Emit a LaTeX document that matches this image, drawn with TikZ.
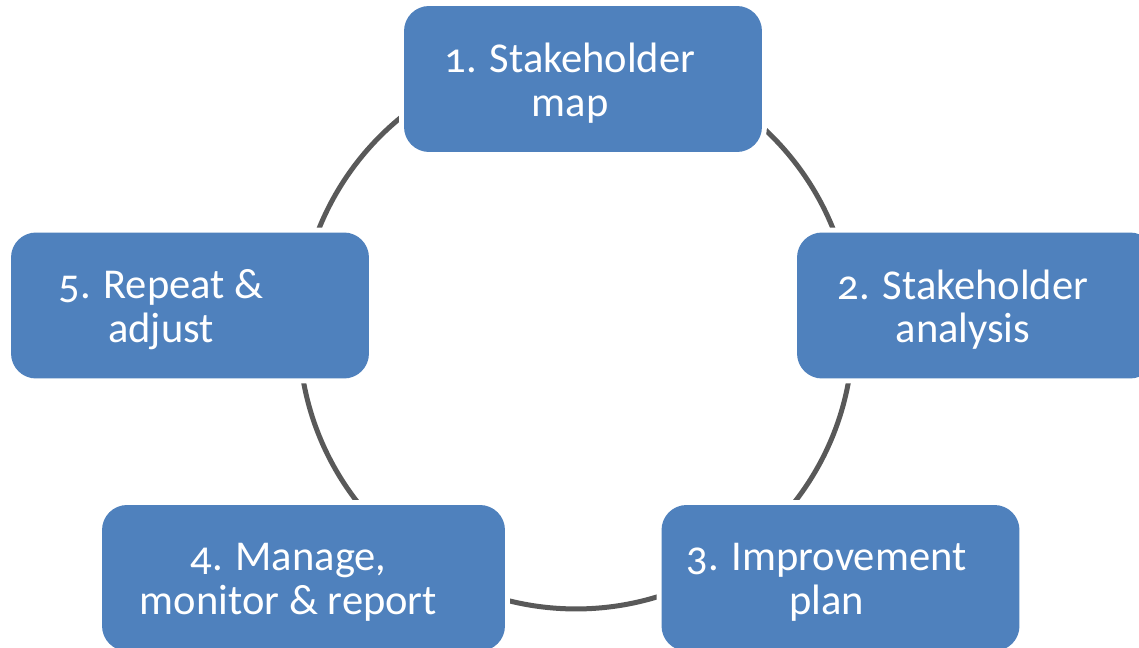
\documentclass[tikz,border=0pt]{standalone}
\usepackage{fontspec}
\setmainfont{Carlito}[Numbers=OldStyle]
\definecolor{boxblue}{HTML}{4F81BD}
\definecolor{ringgray}{HTML}{595959}
\tikzset{
  stepbox/.style={fill=boxblue, rounded corners=0.5cm, inner sep=0pt,
    minimum width=7.16cm, minimum height=2.92cm,
    preaction={draw=white, line width=0.2cm}},
  steptext/.style={text=white, align=center, font=\fontsize{24.2}{24.8}\selectfont}
}

\begin{document}
\begin{tikzpicture}[x=0.02cm, y=-0.02cm]
  \useasboundingbox (0,0) rectangle (1139,648);
  \clip (0,0) rectangle (1139,648);

  % the ring behind the steps
  \coordinate (c) at (576,332);
  \draw[ringgray, line width=0.1cm] (c) circle[radius=5.54cm];

  \node[stepbox] (s1) at (583,79)    {};
  \node[stepbox] (s2) at (976,305.5) {};
  \node[stepbox] (s3) at (840.5,578) {};
  \node[stepbox, minimum width=8.06cm] (s4) at (303.5,578) {};
  \node[stepbox] (s5) at (190,305.5) {};

  \def\labels {t1/570/83/{1. Stakeholder\\map}, t2/963/309.5/{2. Stakeholder\\analysis},
  t3/826.5/582/{3. Improvement\\plan}, t4/288.5/582/{4. Manage,\\monitor \& report},
  t5/161/309.5/{5. Repeat \&\\adjust}}  % step texts
  \foreach \n/\x/\y/\txt in \labels
  {  \node[steptext] (\n) at (\x,\y) {\txt};
  }
\end{tikzpicture}
\end{document}
